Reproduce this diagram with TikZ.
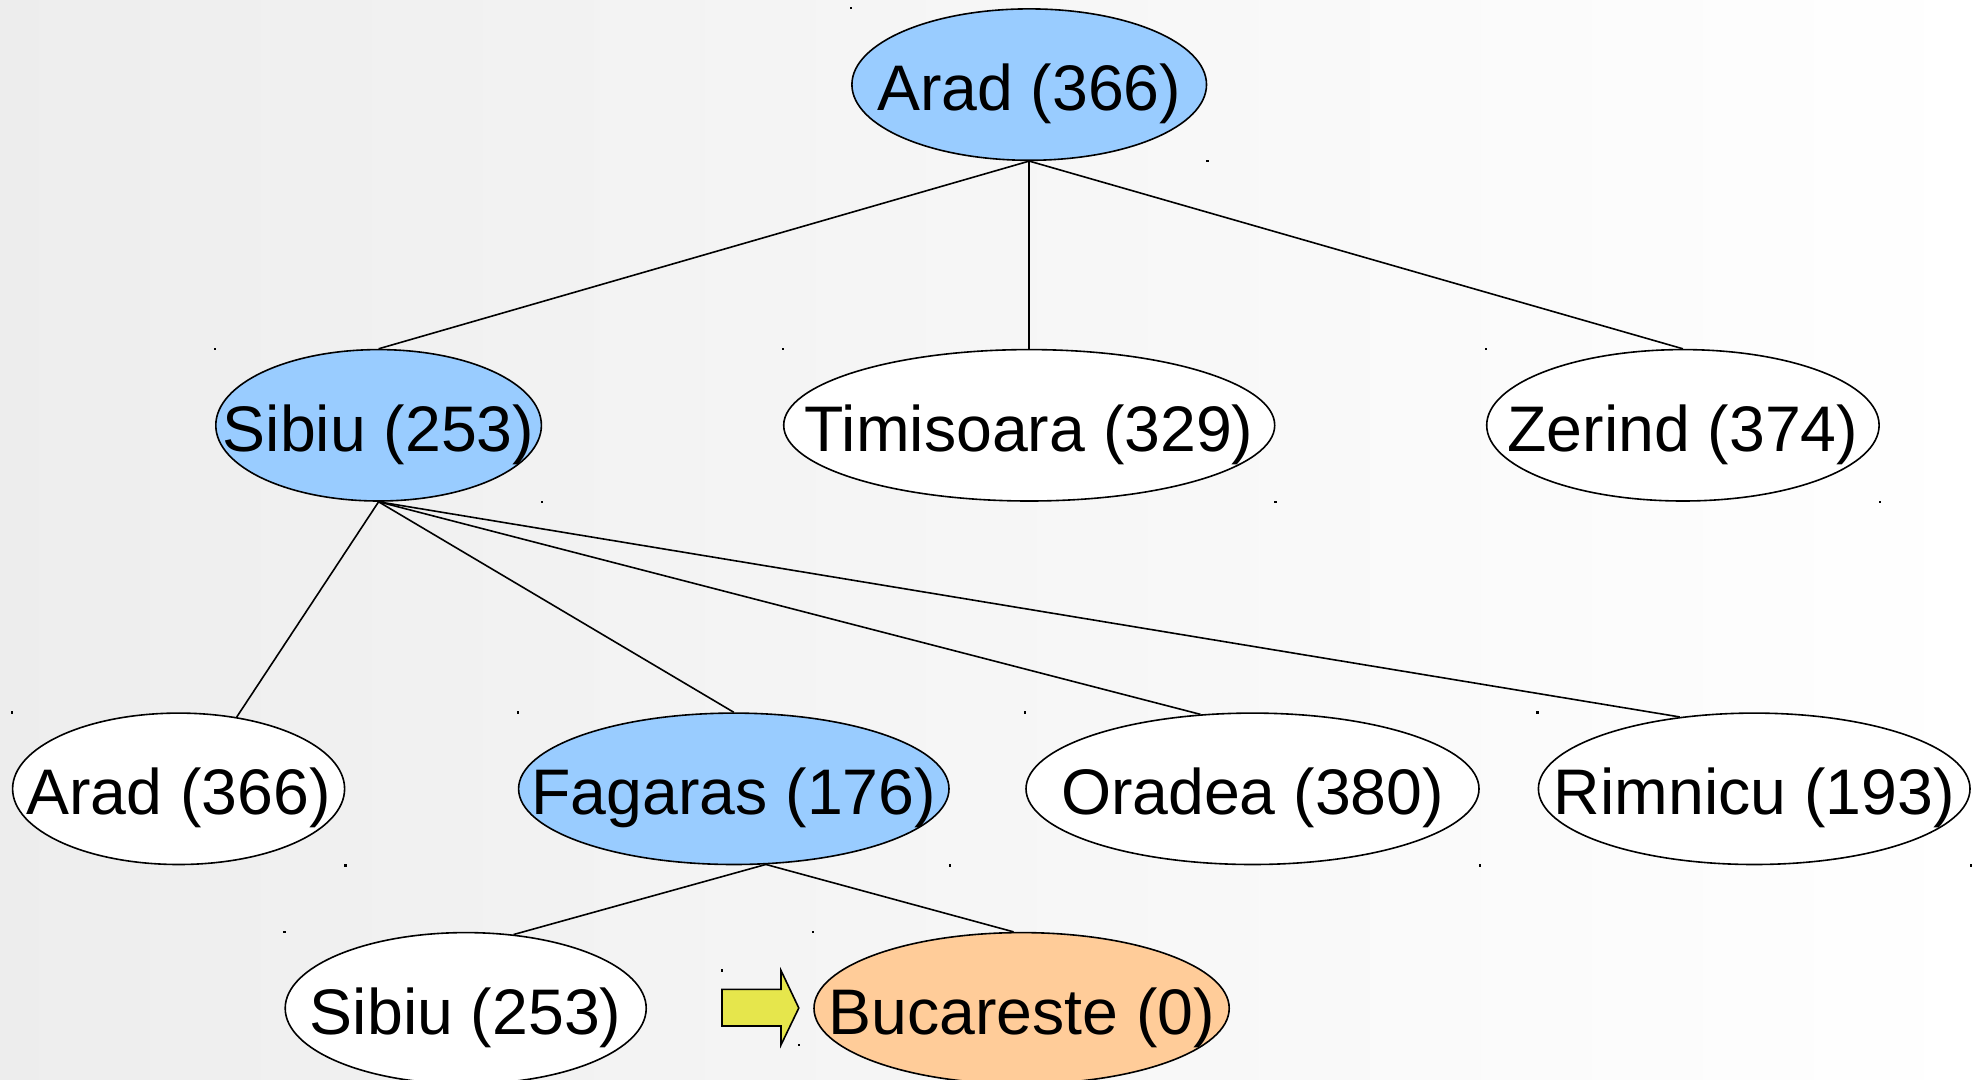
\documentclass[tikz,border=0pt]{standalone}
\usepackage{fontspec}
\setmainfont{Liberation Sans}
\usetikzlibrary{shapes.geometric}
\definecolor{nodeblue}{HTML}{99CCFF}
\definecolor{nodeorange}{HTML}{FFCC99}
\definecolor{arrowyellow}{HTML}{E6E64C}
\tikzset{
  city/.style={ellipse, draw=black, line width=0.8pt, fill=white, inner sep=0pt,
    text height=26pt, text depth=0pt, minimum height=75.7pt,
    font=\fontsize{32.2}{36}\selectfont},
  expanded/.style={city, fill=nodeblue},
  goal/.style={city, fill=nodeorange},
  edge/.style={line width=0.8pt},
  pointer/.style={draw=black, line width=0.8pt, fill=arrowyellow, line join=miter},
  corner/.style={fill=black}
}
\begin{document}
\begin{tikzpicture}[x=0.5pt,y=-0.5pt]
\useasboundingbox (0,0) rectangle (1979,1080);
\shade[left color=black!7, middle color=black!2, right color=white] (0,0) rectangle (1979,1080);

% row 1
\node[expanded, minimum width=177.3pt] (arad1) at (1029.2,84.6) {\makebox[0pt]{Arad (366)}};
% row 2
\node[expanded, minimum width=162.8pt] (sibiu2) at (378.6,425.3) {\makebox[0pt]{Sibiu (253)}};
\node[city, minimum width=245.5pt] (timi) at (1029.2,425.3) {\makebox[0pt]{Timisoara (329)}};
\node[city, minimum width=196.2pt] (zer) at (1682.9,425.3) {\makebox[0pt]{Zerind (374)}};
% row 3
\node[city, minimum width=166.0pt] (arad3) at (178.6,788.8) {\makebox[0pt]{Arad (366)}};
\node[expanded, minimum width=215.2pt] (fag) at (733.8,788.8) {\makebox[0pt]{Fagaras (176)}};
\node[city, minimum width=226.5pt] (ora) at (1252.5,788.8) {\makebox[0pt]{Oradea (380)}};
\node[city, minimum width=215.8pt] (rim) at (1754.2,788.8) {\makebox[0pt]{Rimnicu (193)}};
% row 4
\node[city, minimum width=180.5pt] (sibiu4) at (465.7,1008.3) {\makebox[0pt]{Sibiu (253)}};
\node[goal, minimum width=207.6pt] (buc) at (1021.6,1008.3) {\makebox[0pt]{Bucareste (0)}};

% connectors
\draw[edge] (arad1.south) -- (sibiu2.north);
\draw[edge] (arad1.south) -- (timi.north);
\draw[edge] (arad1.south) -- (zer.north);
\draw[edge] (sibiu2.south) -- (arad3.51);
\draw[edge] (sibiu2.south) -- (fag.north);
\draw[edge] (sibiu2.south) -- (ora.125);
\draw[edge] (sibiu2.south) -- (rim.136);
\draw[edge] (fag.-67) -- (sibiu4.57);
\draw[edge] (fag.-67) -- (buc.96);

% goal pointer
\draw[pointer] (722,989.4) -- (781,989.4) -- (781,970.5) -- (798.8,1008) -- (781,1044.9) -- (781,1026) -- (722,1026) -- cycle;

% selection corner marks
\foreach \n in {arad1,sibiu2,timi,zer,arad3,fag,ora,rim,sibiu4,buc}{
  \fill[corner] (\n.west |- \n.north) +(-1.2,-1.2) rectangle +(1.2,1.2);
  \fill[corner] (\n.east |- \n.south) +(-1.2,-1.2) rectangle +(1.2,1.2);
}
\fill[corner] (722,970.5) +(-1.2,-1.2) rectangle +(1.2,1.2);
\fill[corner] (798.8,1044.9) +(-1.2,-1.2) rectangle +(1.2,1.2);
\end{tikzpicture}
\end{document}
